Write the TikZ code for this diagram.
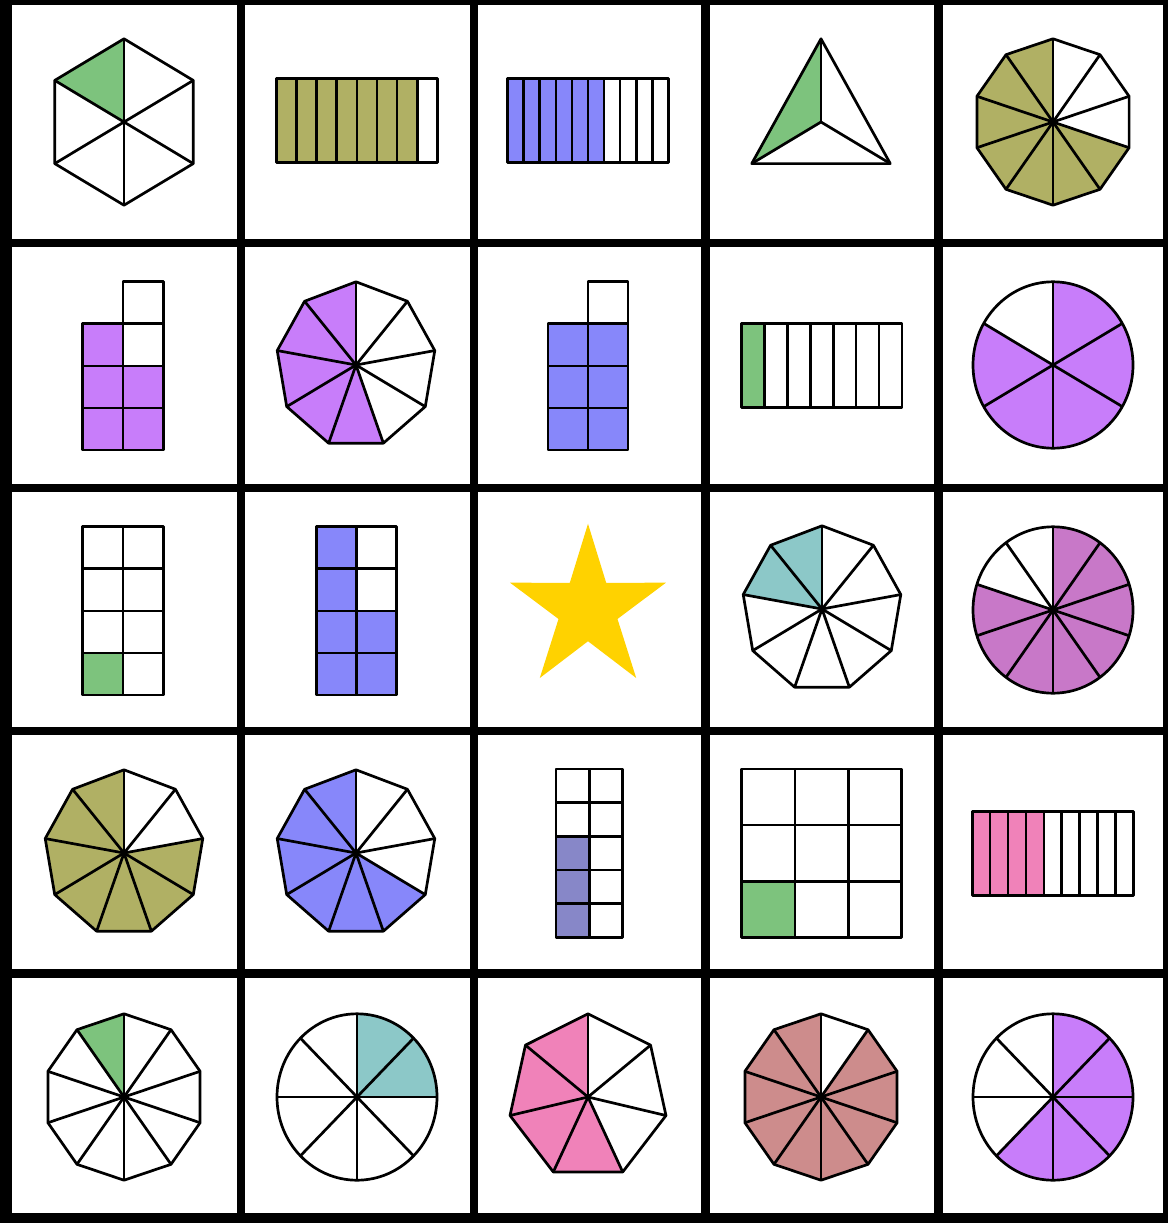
\documentclass[tikz,border=0pt]{standalone}
\usepackage{xcolor}
\definecolor{c1}{RGB}{125,195,125}
\definecolor{c2}{RGB}{176,176,100}
\definecolor{c3}{RGB}{135,135,250}
\definecolor{c4}{RGB}{200,125,250}
\definecolor{c5}{RGB}{140,200,200}
\definecolor{c6}{RGB}{200,120,200}
\definecolor{c7}{RGB}{135,135,200}
\definecolor{c8}{RGB}{240,130,185}
\definecolor{c9}{RGB}{205,140,140}
\definecolor{c10}{RGB}{255,210,0}

\tikzset{piece/.style={draw=black,line width=2.7pt,line join=round}}

% polygon cut into n sectors from the top, clockwise
\newcommand{\polypie}[5]{%
  \begin{scope}[shift={(#1,-#2)},yscale=1.04]
    \foreach \k in {#5}
      \fill[#4] (0,0) -- ({90-360*\k/#3}:80) -- ({90-360*(\k+1)/#3}:80) -- cycle;
    \foreach \k in {1,...,#3}
      \draw[piece] (0,0) -- ({90-360*\k/#3}:80);
    \draw[piece] (90:80) \foreach \k in {1,...,#3}{ -- ({90-360*\k/#3}:80)} -- cycle;
  \end{scope}}
% circle cut into n sectors from the top, clockwise
\newcommand{\roundpie}[5]{%
  \begin{scope}[shift={(#1,-#2)},yscale=1.04]
    \foreach \k in {#5}
      \fill[#4] (0,0) -- ({90-360*\k/#3}:80)
        arc[start angle={90-360*\k/#3},end angle={90-360*(\k+1)/#3},radius=80] -- cycle;
    \foreach \k in {1,...,#3}
      \draw[piece] (0,0) -- ({90-360*\k/#3}:80);
    \draw[piece] (0,0) circle[radius=80];
  \end{scope}}
% bar of n strips, first k filled
\newcommand{\stripbar}[7]{%
  \fill[#7] (#1,-#2) rectangle ({#1+(#3-#1)*#6/#5},-#4);
  \foreach \k in {1,...,#5}
    \draw[piece] ({#1+(#3-#1)*(\k-1)/#5},-#2) rectangle ({#1+(#3-#1)*\k/#5},-#4);}
% single cells i/j/colour from a top left corner
\newcommand{\cellgrid}[5]{%
  \foreach \i/\j/\c in {#5}
    \draw[piece,fill=\c] ({#1+\i*#3},{-#2-\j*#4}) rectangle ++(#3,-#4);}

\begin{document}
\begin{tikzpicture}[x=1pt,y=1pt]
% board
\fill[black] (0,0) rectangle (1168,-1223);
\foreach \xa/\xb in {12/237,245/470,478/701,710/934,943/1163}
  \foreach \ya/\yb in {5/239,247/484,492/727,735/969,978/1213}
    \fill[white] (\xa,-\ya) rectangle (\xb,-\yb);

% row 1
\polypie{124}{122}{6}{c1}{5}
\stripbar{276.5}{78.3}{437.3}{162.7}{8}{7}{c2}
\stripbar{507.7}{78.3}{668.3}{162.7}{10}{6}{c3}
\polypie{821}{122}{3}{c1}{2}
\polypie{1053}{122}{10}{c2}{3,...,9}

% row 2
\cellgrid{82.7}{281.7}{40.3}{42.1}{1/0/white,1/1/white,0/1/c4,0/2/c4,0/3/c4,1/2/c4,1/3/c4}
\polypie{356}{365}{9}{c4}{4,...,8}
\cellgrid{548}{281.7}{40}{42.1}{1/0/white,0/1/c3,0/2/c3,0/3/c3,1/1/c3,1/2/c3,1/3/c3}
\stripbar{741.6}{323.3}{901.9}{407.7}{7}{1}{c1}
\roundpie{1053}{365}{6}{c4}{0,...,4}

% row 3
\cellgrid{82.7}{526.7}{40.3}{42.1}{0/0/white,1/0/white,0/1/white,1/1/white,0/2/white,1/2/white,0/3/c1,1/3/white}
\cellgrid{316.7}{526.7}{40}{42.1}{0/0/c3,1/0/white,0/1/c3,1/1/white,0/2/c3,1/2/c3,0/3/c3,1/3/c3}
\begin{scope}[shift={(588,-609)},yscale=1.04]
  \fill[c10] (90:82) \foreach \k in {1,...,9}{ -- ({90+36*\k}:{31+51*iseven(\k)})} -- cycle;
\end{scope}
\polypie{822}{609}{9}{c5}{7,8}
\roundpie{1053}{610}{10}{c6}{0,...,7}

% row 4
\polypie{124}{853}{9}{c2}{2,...,8}
\polypie{356}{853}{9}{c3}{3,...,8}
\cellgrid{556}{769}{33.4}{33.7}{0/0/white,1/0/white,0/1/white,1/1/white,0/2/c7,1/2/white,0/3/c7,1/3/white,0/4/c7,1/4/white}
\cellgrid{741.6}{769}{53.4}{56.1}{0/0/white,1/0/white,2/0/white,0/1/white,1/1/white,2/1/white,0/2/c1,1/2/white,2/2/white}
\stripbar{972.2}{811.3}{1133.4}{895.7}{9}{4}{c8}

% row 5
\polypie{124}{1097}{10}{c1}{9}
\roundpie{357}{1097}{8}{c5}{0,1}
\polypie{588}{1097}{7}{c8}{3,...,6}
\polypie{821}{1097}{10}{c9}{1,...,9}
\roundpie{1053}{1097}{8}{c4}{0,...,4}
\end{tikzpicture}
\end{document}
